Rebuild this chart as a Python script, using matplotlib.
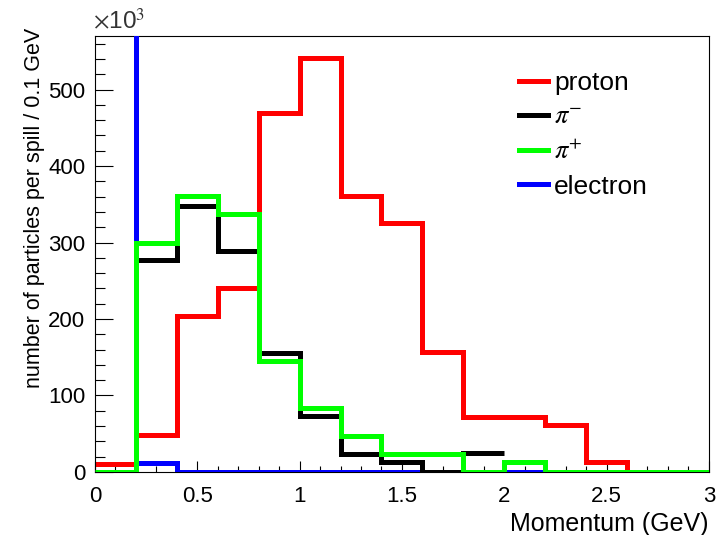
import numpy as np
import matplotlib
matplotlib.use("Agg")
import matplotlib.pyplot as plt
from matplotlib.lines import Line2D

plt.rcParams['font.family'] = ['Liberation Sans', 'DejaVu Sans']
plt.rcParams['mathtext.fontset'] = 'stix'

# momentum bins, 0.1 GeV steps of 2
edges = np.round(np.arange(0, 3.01, 0.2), 2)

# counts per bin, in units of 10^3
proton = [10, 48, 204, 241, 469, 541, 361, 325, 157, 72, 72, 61, 13, 0, 0]
pi_minus = [0, 277, 348, 289, 156, 73, 23, 13, 0, 25, np.nan, np.nan, np.nan, np.nan, np.nan]
pi_plus = [0, 300, 361, 337, 145, 84, 47, 24, 24, 0, 13, 0, 0, 0, 0]
electron = [1500, 12, 0, 0, 0, 0, 0, 0, np.nan, np.nan, 0, np.nan, np.nan, np.nan, np.nan]

labels = ["proton", r"$\pi^{-}$", r"$\pi^{+}$", "electron"]
colors = ["#ff0000", "#000000", "#00ff00", "#0000ff"]

fig = plt.figure(figsize=(7.16, 5.35), dpi=100)
ax = fig.add_axes([0.1327, 0.1178, 0.8573, 0.8149])

lw = 3.6
ax.stairs(proton, edges, baseline=None, color=colors[0], lw=lw, zorder=2)
ax.stairs(electron, edges, baseline=None, color=colors[3], lw=lw, zorder=3)
ax.stairs(pi_minus, edges, baseline=None, color=colors[1], lw=lw, zorder=4)
ax.stairs(pi_plus, edges, baseline=None, color=colors[2], lw=lw, zorder=5)

ax.set_xlim(0, 3)
ax.set_ylim(0, 570)

ax.set_xticks(np.arange(0, 3.01, 0.5))
ax.set_xticklabels(["0", "0.5", "1", "1.5", "2", "2.5", "3"])
ax.set_xticks(np.arange(0, 3.01, 0.1), minor=True)
ax.set_yticks(np.arange(0, 501, 100))
ax.set_yticks(np.arange(0, 561, 20), minor=True)

ax.tick_params(axis='both', which='both', direction='in', top=False, right=False,
               labelsize=16, width=0.8)
ax.tick_params(axis='y', which='major', length=13, pad=7)
ax.tick_params(axis='y', which='minor', length=7)
ax.tick_params(axis='x', which='major', length=8, pad=10)
ax.tick_params(axis='x', which='minor', length=4)
for s in ax.spines.values():
    s.set_linewidth(0.8)

ax.set_xlabel("Momentum (GeV)", fontsize=18, loc='right', labelpad=4)
ax.set_ylabel("number of particles per spill / 0.1 GeV", fontsize=15.5, loc='top')
ax.yaxis.set_label_coords(-0.082, 1.02)

ax.text(-0.004, 1.006, r"$\times$10$^{3}$", transform=ax.transAxes, fontsize=17.5,
        ha='left', va='bottom', color='#333333')

handles = [Line2D([], [], color=c, lw=lw) for c in colors]
ax.legend(handles, labels, loc='upper left', bbox_to_anchor=(0.69, 0.92),
          frameon=False, fontsize=19, handlelength=1.1, handletextpad=0.25,
          labelspacing=0.4, borderpad=0, borderaxespad=0)

fig.savefig("out.png", dpi=100)
